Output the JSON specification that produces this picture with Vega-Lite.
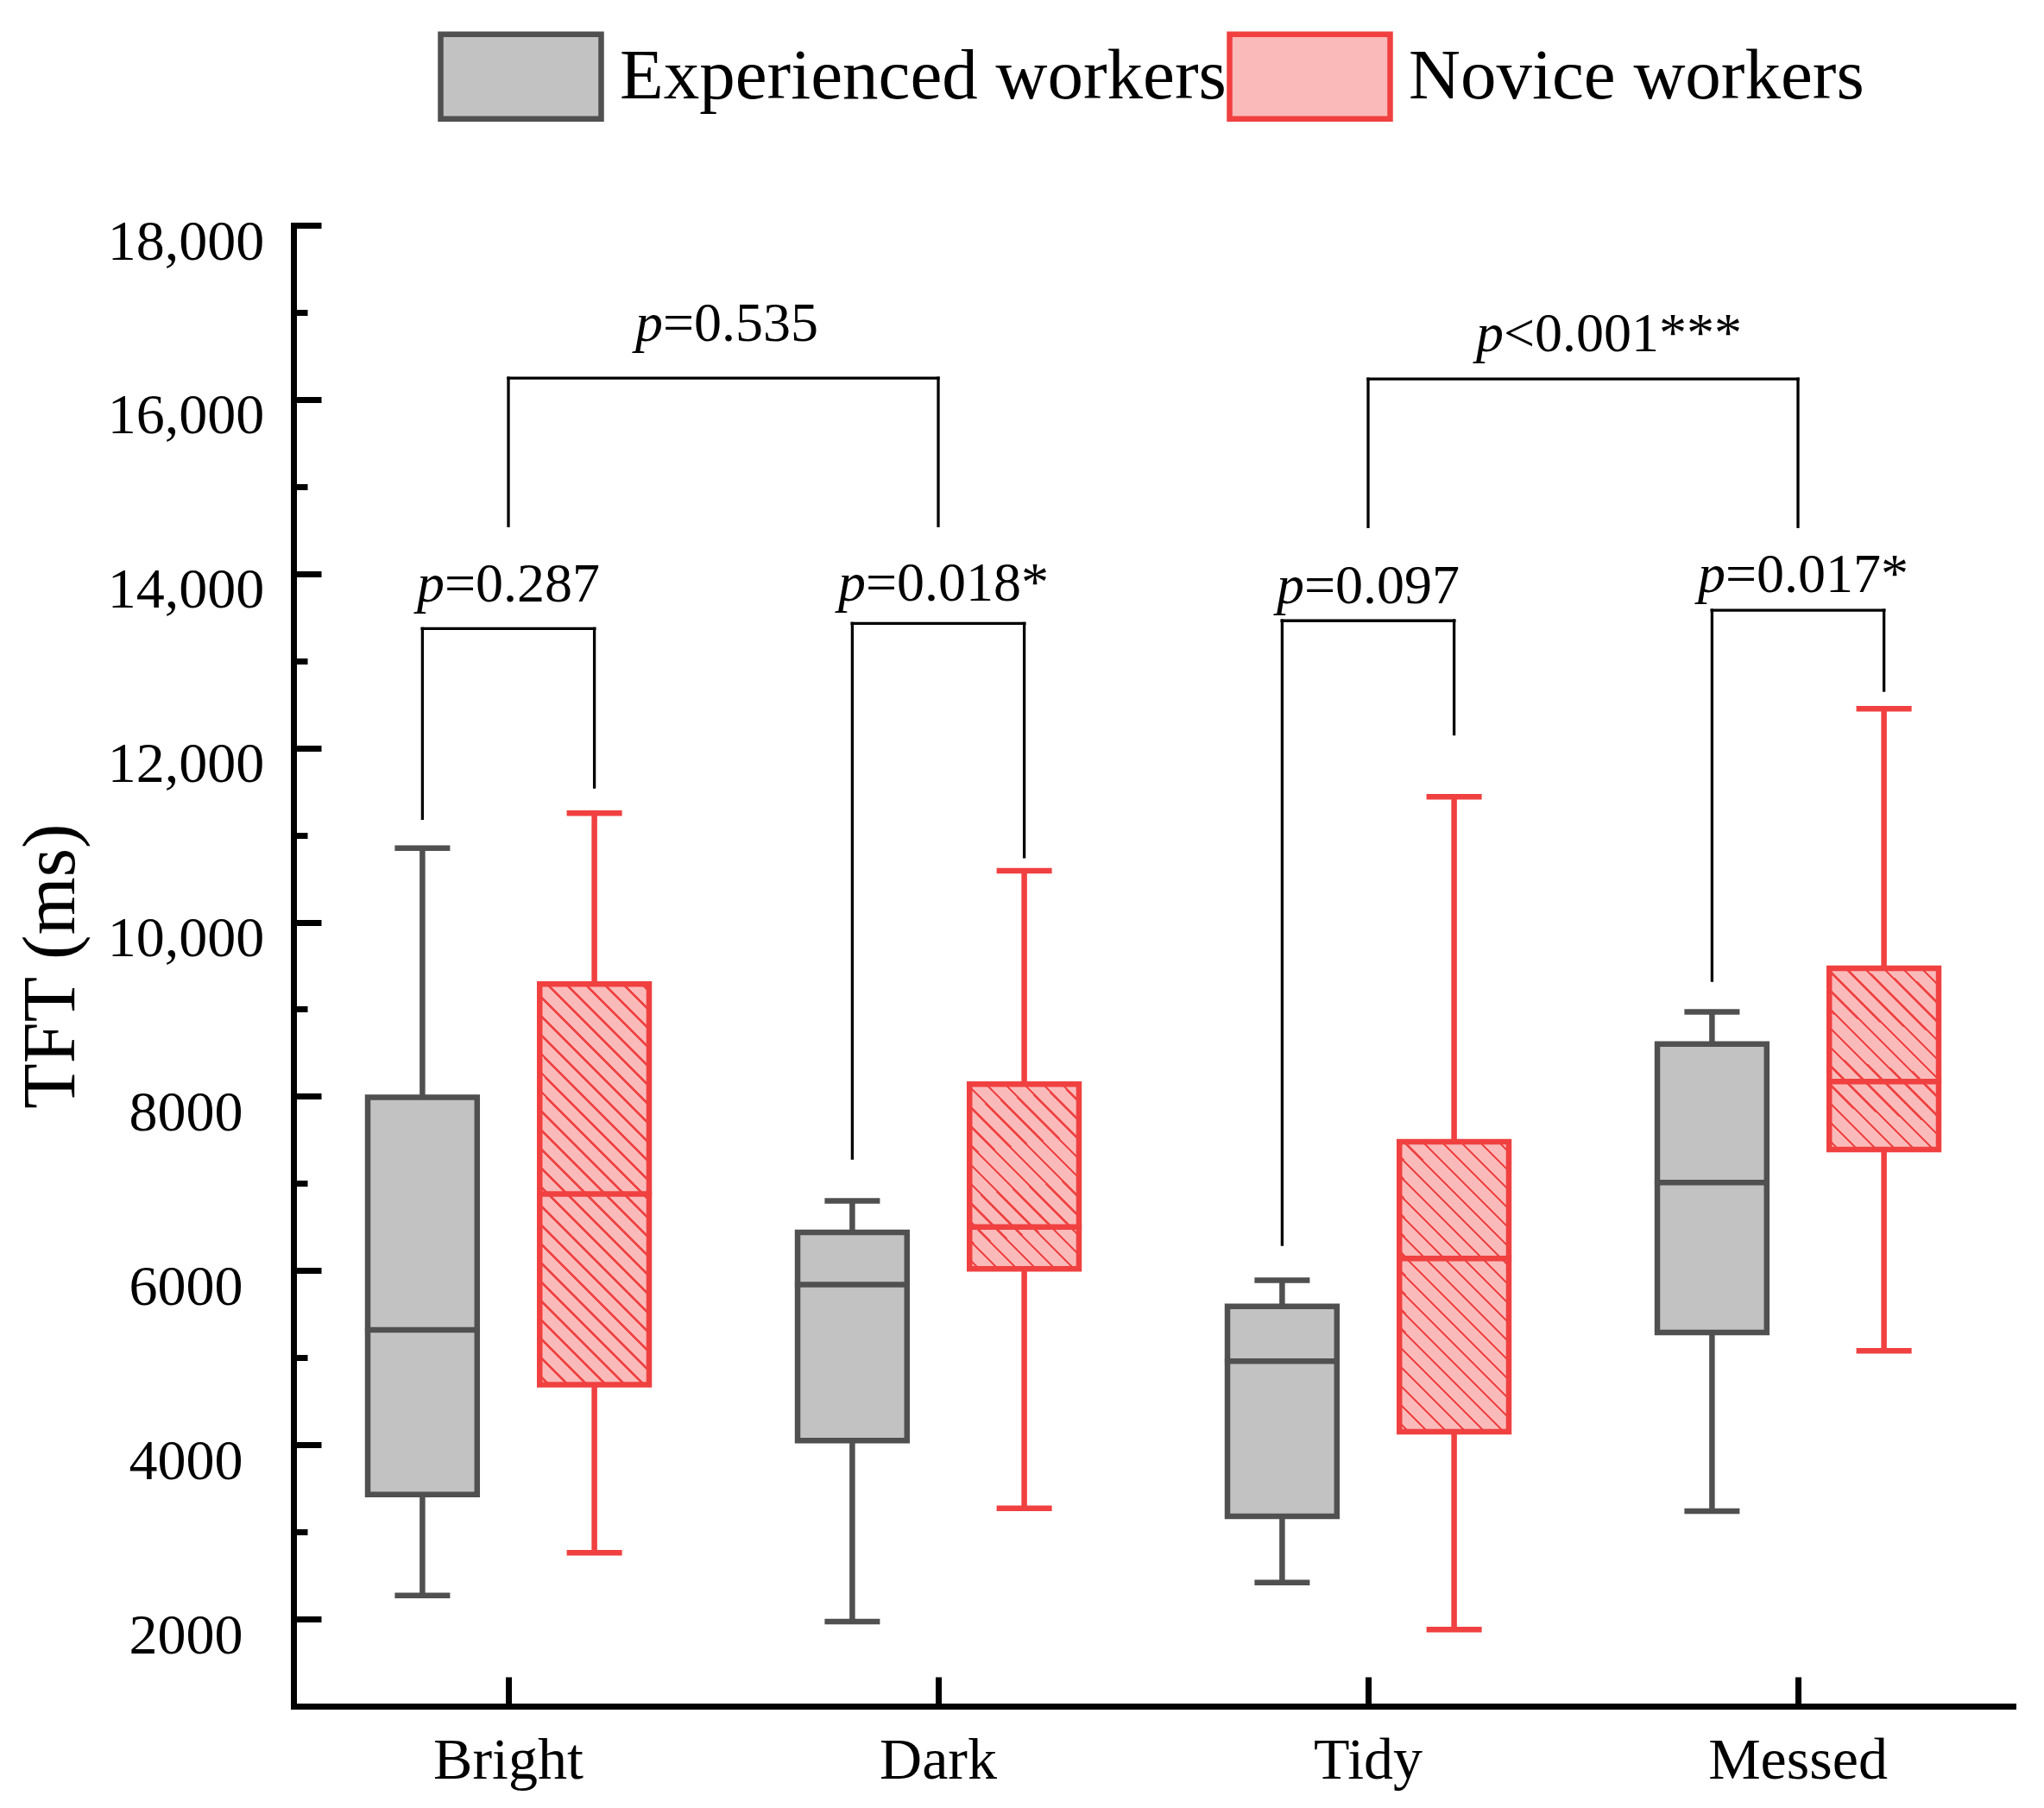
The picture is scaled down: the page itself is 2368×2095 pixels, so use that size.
{
  "$schema": "https://vega.github.io/schema/vega-lite/v6.json",
  "width": 1992,
  "height": 1716,
  "autosize": {"type": "none"},
  "padding": {"left": 340, "top": 261, "right": 36, "bottom": 118},
  "background": "white",
  "config": {
    "font": "Liberation Serif",
    "view": {"stroke": null},
    "axis": {"domainColor": "black", "domainWidth": 7, "domainCap": "square", "tickColor": "black", "tickWidth": 7, "labelColor": "black", "labelFont": "Liberation Serif", "titleFont": "Liberation Serif", "titleColor": "black", "grid": false, "labelLimit": 0},
    "legend": {"orient": "none", "legendX": 167, "legendY": -269, "direction": "horizontal", "symbolType": "M-1,-0.527L1,-0.527L1,0.527L-1,0.527Z", "symbolSize": 34596, "symbolStrokeWidth": 6.5, "symbolOpacity": 1, "labelFontSize": 83, "labelFont": "Liberation Serif", "labelColor": "black", "labelOffset": 18, "columnPadding": -14, "padding": 0, "labelLimit": 0, "title": null}
  },
  "datasets": {
    "boxes": [
      {"cond": "Bright", "group": "Experienced workers", "lo": 2270, "q1": 3430, "med": 5320, "q3": 7990, "hi": 10850},
      {"cond": "Bright", "group": "Novice workers", "lo": 2760, "q1": 4690, "med": 6880, "q3": 9290, "hi": 11250},
      {"cond": "Dark", "group": "Experienced workers", "lo": 1970, "q1": 4050, "med": 5840, "q3": 6440, "hi": 6800},
      {"cond": "Dark", "group": "Novice workers", "lo": 3270, "q1": 6020, "med": 6500, "q3": 8140, "hi": 10590},
      {"cond": "Tidy", "group": "Experienced workers", "lo": 2420, "q1": 3180, "med": 4960, "q3": 5590, "hi": 5890},
      {"cond": "Tidy", "group": "Novice workers", "lo": 1880, "q1": 4150, "med": 6140, "q3": 7480, "hi": 11440},
      {"cond": "Messed", "group": "Experienced workers", "lo": 3240, "q1": 5290, "med": 7010, "q3": 8600, "hi": 8970},
      {"cond": "Messed", "group": "Novice workers", "lo": 5080, "q1": 7390, "med": 8170, "q3": 9470, "hi": 12450}
    ],
    "legs": [
      {"cond": "Bright", "group": "Experienced workers", "y0": 11190, "y1": 13370},
      {"cond": "Bright", "group": "Novice workers", "y0": 11550, "y1": 13370},
      {"cond": "Dark", "group": "Experienced workers", "y0": 7290, "y1": 13430},
      {"cond": "Dark", "group": "Novice workers", "y0": 10750, "y1": 13430},
      {"cond": "Tidy", "group": "Experienced workers", "y0": 6300, "y1": 13460},
      {"cond": "Tidy", "group": "Novice workers", "y0": 12160, "y1": 13460},
      {"cond": "Messed", "group": "Experienced workers", "y0": 9330, "y1": 13580},
      {"cond": "Messed", "group": "Novice workers", "y0": 12660, "y1": 13580}
    ],
    "pairs": [
      {"cond": "Bright", "top": 13370, "ty": 13680, "rest": "=0.287"},
      {"cond": "Dark", "top": 13430, "ty": 13690, "rest": "=0.018*"},
      {"cond": "Tidy", "top": 13460, "ty": 13665, "rest": "=0.097"},
      {"cond": "Messed", "top": 13580, "ty": 13785, "rest": "=0.017*"}
    ],
    "outerLegs": [
      {"cond": "Bright", "y0": 14550, "y1": 16245},
      {"cond": "Dark", "y0": 14550, "y1": 16245},
      {"cond": "Tidy", "y0": 14540, "y1": 16235},
      {"cond": "Messed", "y0": 14540, "y1": 16235}
    ],
    "outer": [
      {"c1": "Bright", "c2": "Dark", "top": 16245, "ty": 16670, "rest": "=0.535"},
      {"c1": "Tidy", "c2": "Messed", "top": 16235, "ty": 16550, "rest": "<0.001***"}
    ]
  },
  "layer": [
    {
      "data": {"name": "boxes"},
      "mark": {"type": "rule", "strokeWidth": 6.5},
      "encoding": {
        "x": {"field": "cond", "type": "nominal", "title": null, "scale": {"domain": ["Bright", "Dark", "Tidy", "Messed"], "paddingInner": 0, "paddingOuter": 0},
              "axis": {"title": null, "labelFontSize": 68, "labelAngle": 0, "labelBaseline": "alphabetic", "labelPadding": 117, "labelLimit": 0, "tickSize": -34}},
        "xOffset": {"field": "group", "type": "nominal", "scale": {"domain": ["Experienced workers", "Novice workers"], "paddingInner": 0.3637, "paddingOuter": 0.4318}},
        "y": {"field": "lo", "type": "quantitative", "title": "TFT (ms)", "scale": {"domain": [1000, 18000], "nice": false, "zero": false},
              "axis": {"title": "TFT (ms)", "titleFontSize": 86, "titleFontWeight": "normal", "titleAngle": -90, "titleX": -255, "titleY": 858, "titleAlign": "center", "titleBaseline": "alphabetic",
                       "values": [2000, 3000, 4000, 5000, 6000, 7000, 8000, 9000, 10000, 11000, 12000, 13000, 14000, 15000, 16000, 17000, 18000],
                       "labelExpr": "datum.value % 2000 == 0 ? (datum.value >= 10000 ? format(datum.value, ',') : format(datum.value, 'd')) : ''",
                       "labelFontSize": 66, "labelAlign": "center", "labelBaseline": "middle", "labelOffset": 19, "labelPadding": 157,
                       "tickSize": {"condition": {"test": "datum.value % 2000 == 0", "value": -32}, "value": -16}}},
        "y2": {"field": "hi"},
        "color": {"condition": {"test": "datum.group == 'Novice workers'", "value": "#f04040"}, "value": "#505050"}
      }
    },
    {
      "data": {"name": "boxes"},
      "mark": {"type": "tick", "size": 64, "thickness": 6.5, "opacity": 1},
      "encoding": {
        "x": {"field": "cond", "type": "nominal", "title": null},
        "xOffset": {"field": "group", "type": "nominal"},
        "y": {"field": "lo", "type": "quantitative", "title": "TFT (ms)"},
        "color": {"condition": {"test": "datum.group == 'Novice workers'", "value": "#f04040"}, "value": "#505050"}
      }
    },
    {
      "data": {"name": "boxes"},
      "mark": {"type": "tick", "size": 64, "thickness": 6.5, "opacity": 1},
      "encoding": {
        "x": {"field": "cond", "type": "nominal", "title": null},
        "xOffset": {"field": "group", "type": "nominal"},
        "y": {"field": "hi", "type": "quantitative", "title": "TFT (ms)"},
        "color": {"condition": {"test": "datum.group == 'Novice workers'", "value": "#f04040"}, "value": "#505050"}
      }
    },
    {
      "data": {"name": "boxes"},
      "transform": [{"filter": "datum.group == 'Experienced workers'"}],
      "mark": {"type": "bar", "strokeWidth": 6.5, "strokeJoin": "miter"},
      "encoding": {
        "x": {"field": "cond", "type": "nominal", "title": null},
        "xOffset": {"field": "group", "type": "nominal"},
        "y": {"field": "q1", "type": "quantitative", "title": "TFT (ms)"},
        "y2": {"field": "q3"},
        "fill": {"field": "group", "type": "nominal", "scale": {"domain": ["Experienced workers", "Novice workers"], "range": ["#c2c2c2", "#fbbaba"]}},
        "stroke": {"field": "group", "type": "nominal", "scale": {"domain": ["Experienced workers", "Novice workers"], "range": ["#505050", "#f04040"]}}
      }
    },
    {
      "data": {"name": "boxes"},
      "transform": [{"filter": "datum.group == 'Novice workers' && datum.cond == 'Bright'"}],
      "mark": {"type": "bar", "strokeWidth": 6.5, "strokeJoin": "miter", "stroke": "#f04040",
        "fill": {"gradient": "linear", "x1": 0, "y1": 1, "x2": 0.3241, "y2": -0.1849, "stops": [
          {"offset": 0, "color": "#fbbaba"},
          {"offset": 0.0156, "color": "#fbbaba"}, {"offset": 0.0156, "color": "#f04545"}, {"offset": 0.0216, "color": "#f04545"}, {"offset": 0.0216, "color": "#fbbaba"},
          {"offset": 0.0528, "color": "#fbbaba"}, {"offset": 0.0528, "color": "#f04545"}, {"offset": 0.0588, "color": "#f04545"}, {"offset": 0.0588, "color": "#fbbaba"},
          {"offset": 0.0900, "color": "#fbbaba"}, {"offset": 0.0900, "color": "#f04545"}, {"offset": 0.0960, "color": "#f04545"}, {"offset": 0.0960, "color": "#fbbaba"},
          {"offset": 0.1272, "color": "#fbbaba"}, {"offset": 0.1272, "color": "#f04545"}, {"offset": 0.1332, "color": "#f04545"}, {"offset": 0.1332, "color": "#fbbaba"},
          {"offset": 0.1644, "color": "#fbbaba"}, {"offset": 0.1644, "color": "#f04545"}, {"offset": 0.1704, "color": "#f04545"}, {"offset": 0.1704, "color": "#fbbaba"},
          {"offset": 0.2017, "color": "#fbbaba"}, {"offset": 0.2017, "color": "#f04545"}, {"offset": 0.2077, "color": "#f04545"}, {"offset": 0.2077, "color": "#fbbaba"},
          {"offset": 0.2389, "color": "#fbbaba"}, {"offset": 0.2389, "color": "#f04545"}, {"offset": 0.2449, "color": "#f04545"}, {"offset": 0.2449, "color": "#fbbaba"},
          {"offset": 0.2761, "color": "#fbbaba"}, {"offset": 0.2761, "color": "#f04545"}, {"offset": 0.2821, "color": "#f04545"}, {"offset": 0.2821, "color": "#fbbaba"},
          {"offset": 0.3133, "color": "#fbbaba"}, {"offset": 0.3133, "color": "#f04545"}, {"offset": 0.3193, "color": "#f04545"}, {"offset": 0.3193, "color": "#fbbaba"},
          {"offset": 0.3505, "color": "#fbbaba"}, {"offset": 0.3505, "color": "#f04545"}, {"offset": 0.3565, "color": "#f04545"}, {"offset": 0.3565, "color": "#fbbaba"},
          {"offset": 0.3877, "color": "#fbbaba"}, {"offset": 0.3877, "color": "#f04545"}, {"offset": 0.3937, "color": "#f04545"}, {"offset": 0.3937, "color": "#fbbaba"},
          {"offset": 0.4249, "color": "#fbbaba"}, {"offset": 0.4249, "color": "#f04545"}, {"offset": 0.4309, "color": "#f04545"}, {"offset": 0.4309, "color": "#fbbaba"},
          {"offset": 0.4621, "color": "#fbbaba"}, {"offset": 0.4621, "color": "#f04545"}, {"offset": 0.4681, "color": "#f04545"}, {"offset": 0.4681, "color": "#fbbaba"},
          {"offset": 0.4993, "color": "#fbbaba"}, {"offset": 0.4993, "color": "#f04545"}, {"offset": 0.5053, "color": "#f04545"}, {"offset": 0.5053, "color": "#fbbaba"},
          {"offset": 0.5365, "color": "#fbbaba"}, {"offset": 0.5365, "color": "#f04545"}, {"offset": 0.5425, "color": "#f04545"}, {"offset": 0.5425, "color": "#fbbaba"},
          {"offset": 0.5738, "color": "#fbbaba"}, {"offset": 0.5738, "color": "#f04545"}, {"offset": 0.5798, "color": "#f04545"}, {"offset": 0.5798, "color": "#fbbaba"},
          {"offset": 0.6110, "color": "#fbbaba"}, {"offset": 0.6110, "color": "#f04545"}, {"offset": 0.6170, "color": "#f04545"}, {"offset": 0.6170, "color": "#fbbaba"},
          {"offset": 0.6482, "color": "#fbbaba"}, {"offset": 0.6482, "color": "#f04545"}, {"offset": 0.6542, "color": "#f04545"}, {"offset": 0.6542, "color": "#fbbaba"},
          {"offset": 0.6854, "color": "#fbbaba"}, {"offset": 0.6854, "color": "#f04545"}, {"offset": 0.6914, "color": "#f04545"}, {"offset": 0.6914, "color": "#fbbaba"},
          {"offset": 0.7226, "color": "#fbbaba"}, {"offset": 0.7226, "color": "#f04545"}, {"offset": 0.7286, "color": "#f04545"}, {"offset": 0.7286, "color": "#fbbaba"},
          {"offset": 0.7598, "color": "#fbbaba"}, {"offset": 0.7598, "color": "#f04545"}, {"offset": 0.7658, "color": "#f04545"}, {"offset": 0.7658, "color": "#fbbaba"},
          {"offset": 0.7970, "color": "#fbbaba"}, {"offset": 0.7970, "color": "#f04545"}, {"offset": 0.8030, "color": "#f04545"}, {"offset": 0.8030, "color": "#fbbaba"},
          {"offset": 0.8342, "color": "#fbbaba"}, {"offset": 0.8342, "color": "#f04545"}, {"offset": 0.8402, "color": "#f04545"}, {"offset": 0.8402, "color": "#fbbaba"},
          {"offset": 0.8714, "color": "#fbbaba"}, {"offset": 0.8714, "color": "#f04545"}, {"offset": 0.8774, "color": "#f04545"}, {"offset": 0.8774, "color": "#fbbaba"},
          {"offset": 0.9086, "color": "#fbbaba"}, {"offset": 0.9086, "color": "#f04545"}, {"offset": 0.9146, "color": "#f04545"}, {"offset": 0.9146, "color": "#fbbaba"},
          {"offset": 0.9459, "color": "#fbbaba"}, {"offset": 0.9459, "color": "#f04545"}, {"offset": 0.9519, "color": "#f04545"}, {"offset": 0.9519, "color": "#fbbaba"},
          {"offset": 0.9831, "color": "#fbbaba"}, {"offset": 0.9831, "color": "#f04545"}, {"offset": 0.9891, "color": "#f04545"}, {"offset": 0.9891, "color": "#fbbaba"},
          {"offset": 1, "color": "#fbbaba"}]}},
      "encoding": {
        "x": {"field": "cond", "type": "nominal", "title": null},
        "xOffset": {"field": "group", "type": "nominal"},
        "y": {"field": "q1", "type": "quantitative", "title": "TFT (ms)"},
        "y2": {"field": "q3"}
      }
    },
    {
      "data": {"name": "boxes"},
      "transform": [{"filter": "datum.group == 'Novice workers' && datum.cond == 'Tidy'"}],
      "mark": {"type": "bar", "strokeWidth": 6.5, "strokeJoin": "miter", "stroke": "#f04040",
        "fill": {"gradient": "linear", "x1": 0, "y1": 1, "x2": 0.4556, "y2": -0.2057, "stops": [
          {"offset": 0, "color": "#fbbaba"},
          {"offset": 0.0200, "color": "#fbbaba"}, {"offset": 0.0200, "color": "#f04545"}, {"offset": 0.0276, "color": "#f04545"}, {"offset": 0.0276, "color": "#fbbaba"},
          {"offset": 0.0675, "color": "#fbbaba"}, {"offset": 0.0675, "color": "#f04545"}, {"offset": 0.0751, "color": "#f04545"}, {"offset": 0.0751, "color": "#fbbaba"},
          {"offset": 0.1150, "color": "#fbbaba"}, {"offset": 0.1150, "color": "#f04545"}, {"offset": 0.1226, "color": "#f04545"}, {"offset": 0.1226, "color": "#fbbaba"},
          {"offset": 0.1625, "color": "#fbbaba"}, {"offset": 0.1625, "color": "#f04545"}, {"offset": 0.1701, "color": "#f04545"}, {"offset": 0.1701, "color": "#fbbaba"},
          {"offset": 0.2100, "color": "#fbbaba"}, {"offset": 0.2100, "color": "#f04545"}, {"offset": 0.2176, "color": "#f04545"}, {"offset": 0.2176, "color": "#fbbaba"},
          {"offset": 0.2576, "color": "#fbbaba"}, {"offset": 0.2576, "color": "#f04545"}, {"offset": 0.2652, "color": "#f04545"}, {"offset": 0.2652, "color": "#fbbaba"},
          {"offset": 0.3051, "color": "#fbbaba"}, {"offset": 0.3051, "color": "#f04545"}, {"offset": 0.3127, "color": "#f04545"}, {"offset": 0.3127, "color": "#fbbaba"},
          {"offset": 0.3526, "color": "#fbbaba"}, {"offset": 0.3526, "color": "#f04545"}, {"offset": 0.3602, "color": "#f04545"}, {"offset": 0.3602, "color": "#fbbaba"},
          {"offset": 0.4001, "color": "#fbbaba"}, {"offset": 0.4001, "color": "#f04545"}, {"offset": 0.4077, "color": "#f04545"}, {"offset": 0.4077, "color": "#fbbaba"},
          {"offset": 0.4476, "color": "#fbbaba"}, {"offset": 0.4476, "color": "#f04545"}, {"offset": 0.4552, "color": "#f04545"}, {"offset": 0.4552, "color": "#fbbaba"},
          {"offset": 0.4951, "color": "#fbbaba"}, {"offset": 0.4951, "color": "#f04545"}, {"offset": 0.5027, "color": "#f04545"}, {"offset": 0.5027, "color": "#fbbaba"},
          {"offset": 0.5426, "color": "#fbbaba"}, {"offset": 0.5426, "color": "#f04545"}, {"offset": 0.5502, "color": "#f04545"}, {"offset": 0.5502, "color": "#fbbaba"},
          {"offset": 0.5901, "color": "#fbbaba"}, {"offset": 0.5901, "color": "#f04545"}, {"offset": 0.5977, "color": "#f04545"}, {"offset": 0.5977, "color": "#fbbaba"},
          {"offset": 0.6376, "color": "#fbbaba"}, {"offset": 0.6376, "color": "#f04545"}, {"offset": 0.6452, "color": "#f04545"}, {"offset": 0.6452, "color": "#fbbaba"},
          {"offset": 0.6851, "color": "#fbbaba"}, {"offset": 0.6851, "color": "#f04545"}, {"offset": 0.6927, "color": "#f04545"}, {"offset": 0.6927, "color": "#fbbaba"},
          {"offset": 0.7327, "color": "#fbbaba"}, {"offset": 0.7327, "color": "#f04545"}, {"offset": 0.7403, "color": "#f04545"}, {"offset": 0.7403, "color": "#fbbaba"},
          {"offset": 0.7802, "color": "#fbbaba"}, {"offset": 0.7802, "color": "#f04545"}, {"offset": 0.7878, "color": "#f04545"}, {"offset": 0.7878, "color": "#fbbaba"},
          {"offset": 0.8277, "color": "#fbbaba"}, {"offset": 0.8277, "color": "#f04545"}, {"offset": 0.8353, "color": "#f04545"}, {"offset": 0.8353, "color": "#fbbaba"},
          {"offset": 0.8752, "color": "#fbbaba"}, {"offset": 0.8752, "color": "#f04545"}, {"offset": 0.8828, "color": "#f04545"}, {"offset": 0.8828, "color": "#fbbaba"},
          {"offset": 0.9227, "color": "#fbbaba"}, {"offset": 0.9227, "color": "#f04545"}, {"offset": 0.9303, "color": "#f04545"}, {"offset": 0.9303, "color": "#fbbaba"},
          {"offset": 0.9702, "color": "#fbbaba"}, {"offset": 0.9702, "color": "#f04545"}, {"offset": 0.9778, "color": "#f04545"}, {"offset": 0.9778, "color": "#fbbaba"},
          {"offset": 1, "color": "#fbbaba"}]}},
      "encoding": {
        "x": {"field": "cond", "type": "nominal", "title": null},
        "xOffset": {"field": "group", "type": "nominal"},
        "y": {"field": "q1", "type": "quantitative", "title": "TFT (ms)"},
        "y2": {"field": "q3"}
      }
    },
    {
      "data": {"name": "boxes"},
      "transform": [{"filter": "datum.group == 'Novice workers' && (datum.cond == 'Dark' || datum.cond == 'Messed')"}],
      "mark": {"type": "bar", "strokeWidth": 6.5, "strokeJoin": "miter", "stroke": "#f04040",
        "fill": {"gradient": "linear", "x1": 0, "y1": 1, "x2": 0.705, "y2": -0.177, "stops": [
          {"offset": 0, "color": "#fbbaba"},
          {"offset": 0.0273, "color": "#fbbaba"}, {"offset": 0.0273, "color": "#f04545"}, {"offset": 0.0377, "color": "#f04545"}, {"offset": 0.0377, "color": "#fbbaba"},
          {"offset": 0.0922, "color": "#fbbaba"}, {"offset": 0.0922, "color": "#f04545"}, {"offset": 0.1026, "color": "#f04545"}, {"offset": 0.1026, "color": "#fbbaba"},
          {"offset": 0.1571, "color": "#fbbaba"}, {"offset": 0.1571, "color": "#f04545"}, {"offset": 0.1675, "color": "#f04545"}, {"offset": 0.1675, "color": "#fbbaba"},
          {"offset": 0.2220, "color": "#fbbaba"}, {"offset": 0.2220, "color": "#f04545"}, {"offset": 0.2324, "color": "#f04545"}, {"offset": 0.2324, "color": "#fbbaba"},
          {"offset": 0.2869, "color": "#fbbaba"}, {"offset": 0.2869, "color": "#f04545"}, {"offset": 0.2973, "color": "#f04545"}, {"offset": 0.2973, "color": "#fbbaba"},
          {"offset": 0.3518, "color": "#fbbaba"}, {"offset": 0.3518, "color": "#f04545"}, {"offset": 0.3622, "color": "#f04545"}, {"offset": 0.3622, "color": "#fbbaba"},
          {"offset": 0.4167, "color": "#fbbaba"}, {"offset": 0.4167, "color": "#f04545"}, {"offset": 0.4271, "color": "#f04545"}, {"offset": 0.4271, "color": "#fbbaba"},
          {"offset": 0.4816, "color": "#fbbaba"}, {"offset": 0.4816, "color": "#f04545"}, {"offset": 0.4920, "color": "#f04545"}, {"offset": 0.4920, "color": "#fbbaba"},
          {"offset": 0.5465, "color": "#fbbaba"}, {"offset": 0.5465, "color": "#f04545"}, {"offset": 0.5569, "color": "#f04545"}, {"offset": 0.5569, "color": "#fbbaba"},
          {"offset": 0.6114, "color": "#fbbaba"}, {"offset": 0.6114, "color": "#f04545"}, {"offset": 0.6218, "color": "#f04545"}, {"offset": 0.6218, "color": "#fbbaba"},
          {"offset": 0.6763, "color": "#fbbaba"}, {"offset": 0.6763, "color": "#f04545"}, {"offset": 0.6867, "color": "#f04545"}, {"offset": 0.6867, "color": "#fbbaba"},
          {"offset": 0.7412, "color": "#fbbaba"}, {"offset": 0.7412, "color": "#f04545"}, {"offset": 0.7516, "color": "#f04545"}, {"offset": 0.7516, "color": "#fbbaba"},
          {"offset": 0.8061, "color": "#fbbaba"}, {"offset": 0.8061, "color": "#f04545"}, {"offset": 0.8165, "color": "#f04545"}, {"offset": 0.8165, "color": "#fbbaba"},
          {"offset": 0.8710, "color": "#fbbaba"}, {"offset": 0.8710, "color": "#f04545"}, {"offset": 0.8814, "color": "#f04545"}, {"offset": 0.8814, "color": "#fbbaba"},
          {"offset": 0.9359, "color": "#fbbaba"}, {"offset": 0.9359, "color": "#f04545"}, {"offset": 0.9463, "color": "#f04545"}, {"offset": 0.9463, "color": "#fbbaba"},
          {"offset": 1, "color": "#fbbaba"}]}},
      "encoding": {
        "x": {"field": "cond", "type": "nominal", "title": null},
        "xOffset": {"field": "group", "type": "nominal"},
        "y": {"field": "q1", "type": "quantitative", "title": "TFT (ms)"},
        "y2": {"field": "q3"}
      }
    },
    {
      "data": {"name": "boxes"},
      "mark": {"type": "tick", "size": 133, "thickness": 6.5, "opacity": 1},
      "encoding": {
        "x": {"field": "cond", "type": "nominal", "title": null},
        "xOffset": {"field": "group", "type": "nominal"},
        "y": {"field": "med", "type": "quantitative", "title": "TFT (ms)"},
        "color": {"condition": {"test": "datum.group == 'Novice workers'", "value": "#f04040"}, "value": "#505050"}
      }
    },
    {
      "data": {"name": "legs"},
      "mark": {"type": "rule", "strokeWidth": 3.3, "color": "black", "strokeCap": "square"},
      "encoding": {
        "x": {"field": "cond", "type": "nominal", "title": null},
        "xOffset": {"field": "group", "type": "nominal"},
        "y": {"field": "y0", "type": "quantitative", "title": "TFT (ms)"},
        "y2": {"field": "y1"}
      }
    },
    {
      "data": {"name": "pairs"},
      "mark": {"type": "tick", "size": 203, "thickness": 3.3, "color": "black", "opacity": 1},
      "encoding": {
        "x": {"field": "cond", "type": "nominal", "title": null},
        "y": {"field": "top", "type": "quantitative", "title": "TFT (ms)"}
      }
    },
    {
      "data": {"name": "outerLegs"},
      "mark": {"type": "rule", "strokeWidth": 3.3, "color": "black", "strokeCap": "square"},
      "encoding": {
        "x": {"field": "cond", "type": "nominal", "title": null},
        "y": {"field": "y0", "type": "quantitative", "title": "TFT (ms)"},
        "y2": {"field": "y1"}
      }
    },
    {
      "data": {"name": "outer"},
      "mark": {"type": "rule", "strokeWidth": 3.3, "color": "black", "strokeCap": "square"},
      "encoding": {
        "x": {"field": "c1", "type": "nominal", "bandPosition": 0.5, "title": null},
        "x2": {"field": "c2", "bandPosition": 0.5},
        "y": {"field": "top", "type": "quantitative", "title": "TFT (ms)"}
      }
    },
    {
      "data": {"name": "pairs"},
      "mark": {"type": "text", "text": "p", "font": "Liberation Serif", "fontSize": 64, "fontStyle": "italic", "align": "right", "baseline": "alphabetic", "color": "black",
               "dx": {"expr": "indexof(datum.rest, '*') >= 0 ? -84 : -74"}},
      "encoding": {
        "x": {"field": "cond", "type": "nominal", "title": null},
        "y": {"field": "ty", "type": "quantitative", "title": "TFT (ms)"}
      }
    },
    {
      "data": {"name": "pairs"},
      "mark": {"type": "text", "font": "Liberation Serif", "fontSize": 64, "align": "left", "baseline": "alphabetic", "color": "black",
               "dx": {"expr": "indexof(datum.rest, '*') >= 0 ? -84 : -74"}},
      "encoding": {
        "x": {"field": "cond", "type": "nominal", "title": null},
        "y": {"field": "ty", "type": "quantitative", "title": "TFT (ms)"},
        "text": {"field": "rest"}
      }
    },
    {
      "data": {"name": "outer"},
      "mark": {"type": "text", "text": "p", "font": "Liberation Serif", "fontSize": 64, "fontStyle": "italic", "align": "right", "baseline": "alphabetic", "color": "black",
               "dx": {"expr": "indexof(datum.rest, '*') >= 0 ? -92 : -70"}},
      "encoding": {
        "x": {"field": "c1", "type": "nominal", "bandPosition": 1, "title": null},
        "y": {"field": "ty", "type": "quantitative", "title": "TFT (ms)"}
      }
    },
    {
      "data": {"name": "outer"},
      "mark": {"type": "text", "font": "Liberation Serif", "fontSize": 64, "align": "left", "baseline": "alphabetic", "color": "black",
               "dx": {"expr": "indexof(datum.rest, '*') >= 0 ? -92 : -70"}},
      "encoding": {
        "x": {"field": "c1", "type": "nominal", "bandPosition": 1, "title": null},
        "y": {"field": "ty", "type": "quantitative", "title": "TFT (ms)"},
        "text": {"field": "rest"}
      }
    }
  ]
}
